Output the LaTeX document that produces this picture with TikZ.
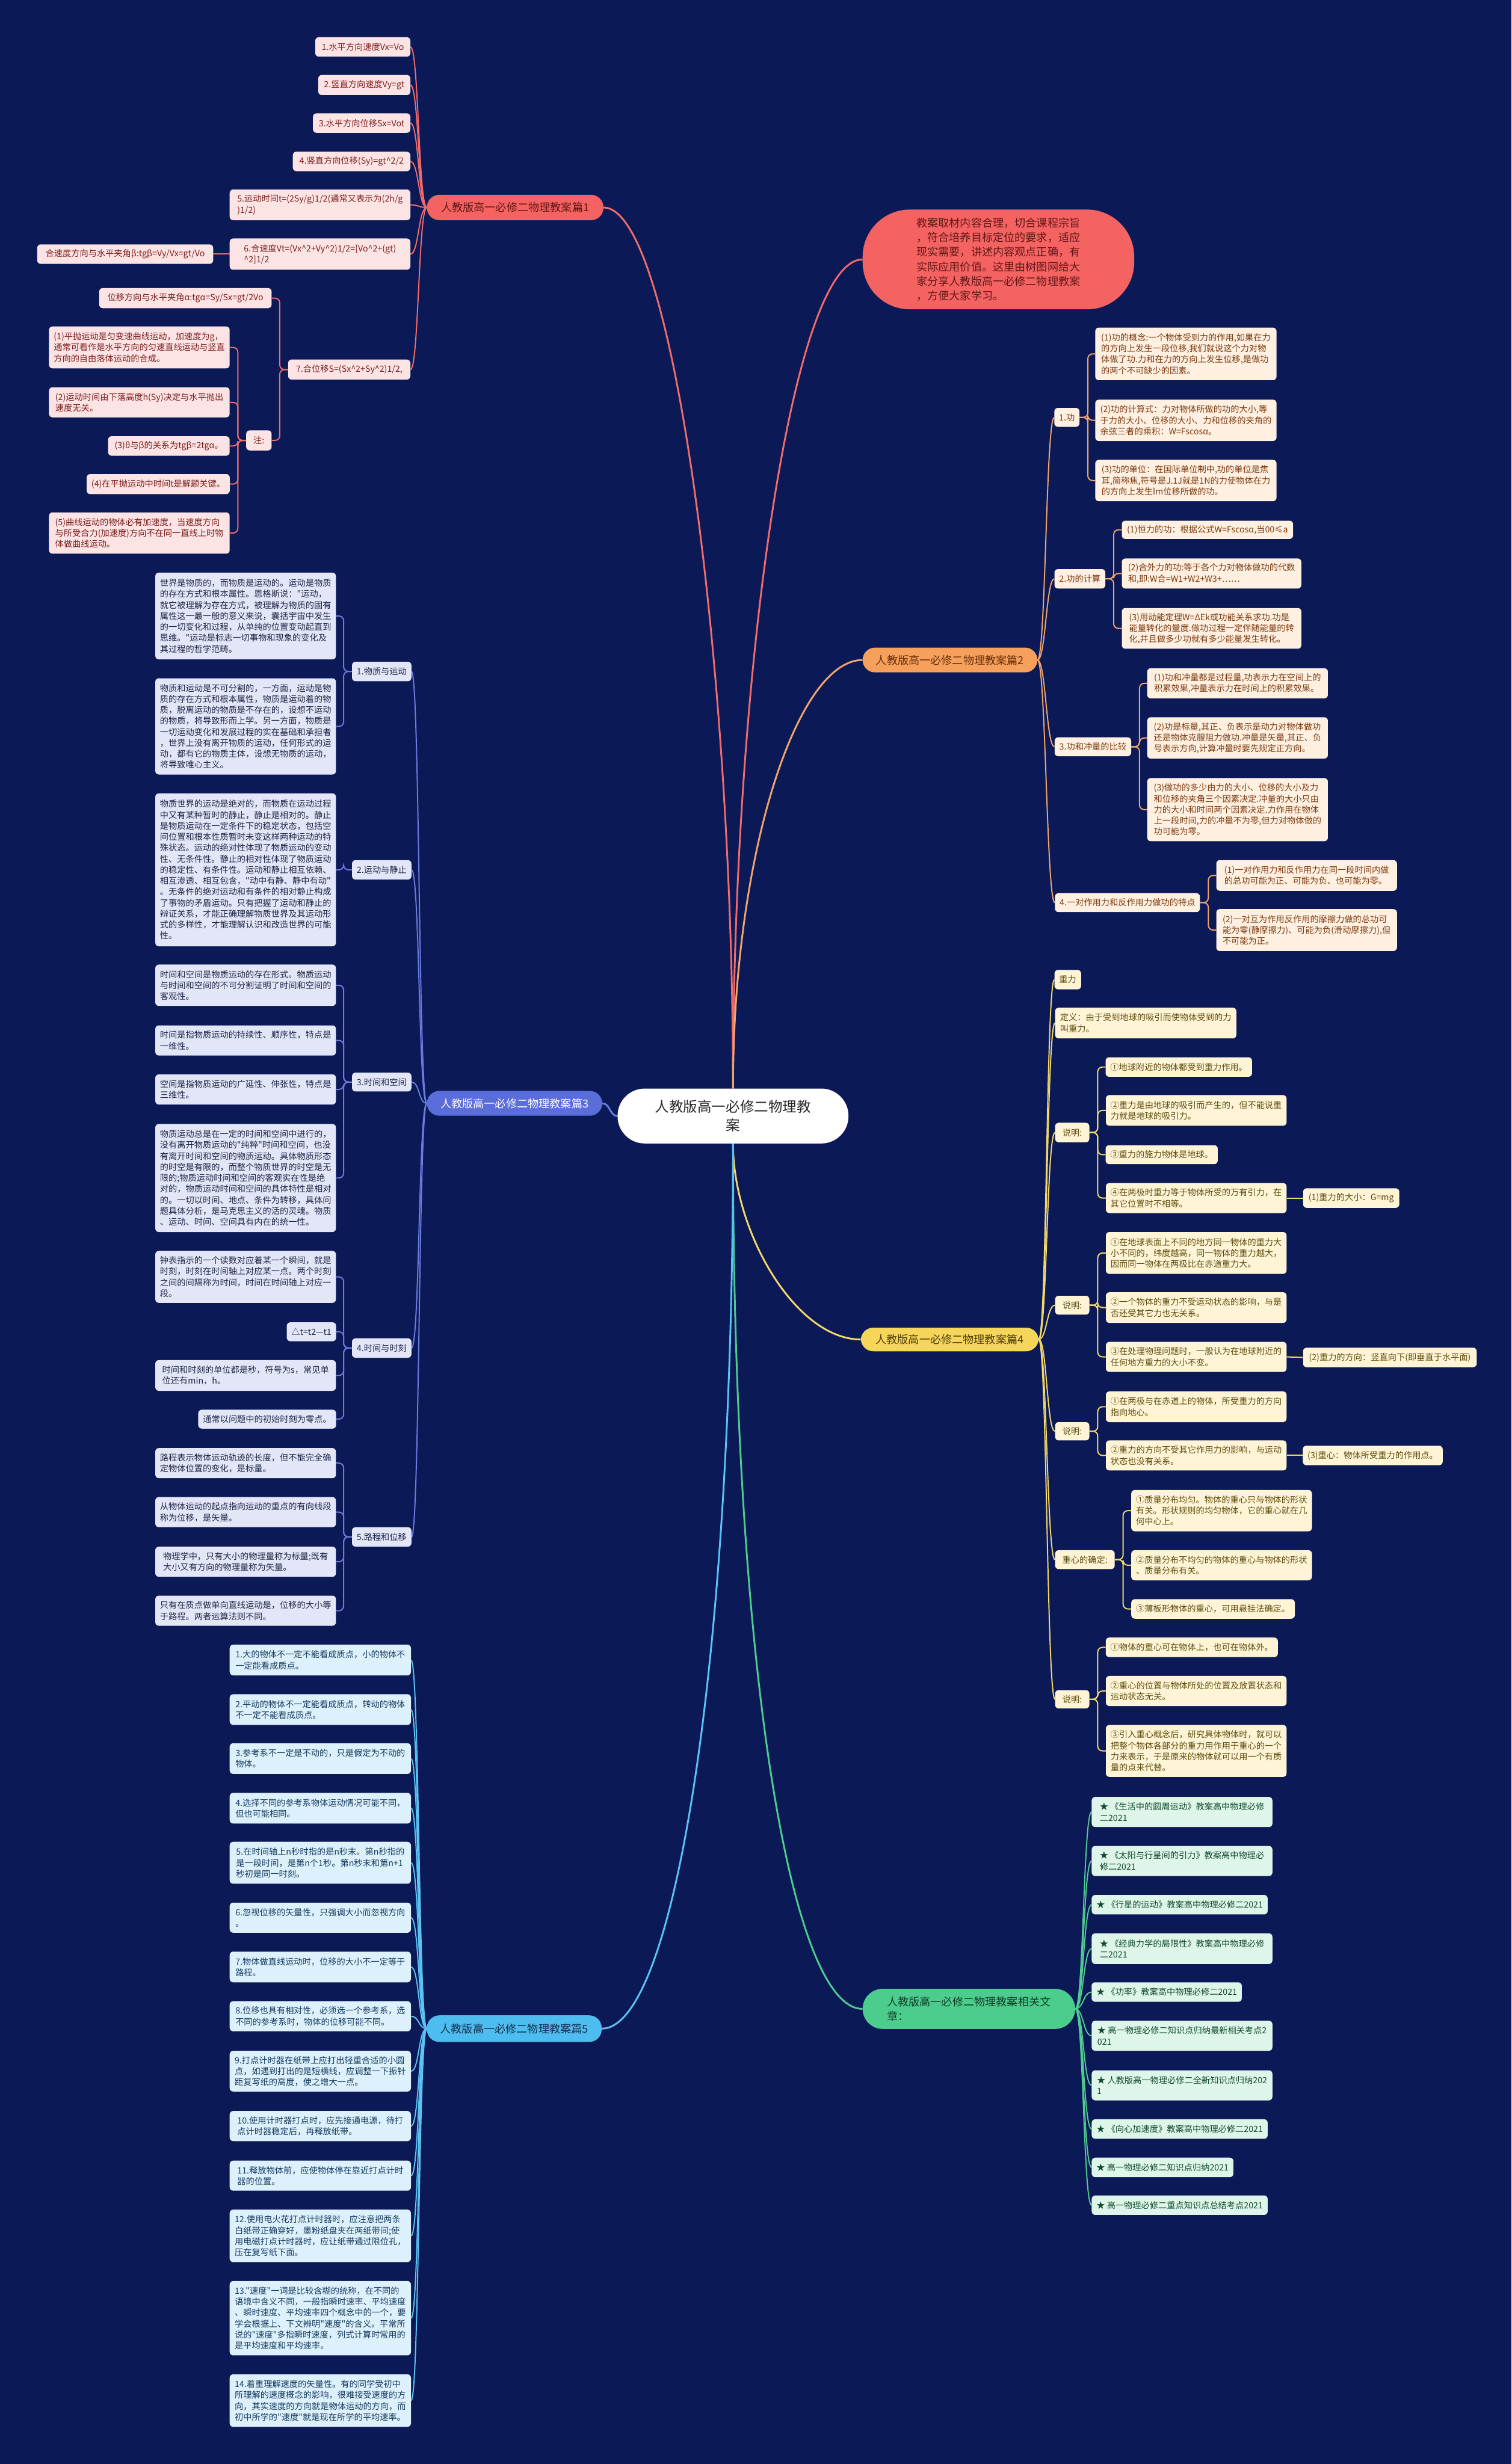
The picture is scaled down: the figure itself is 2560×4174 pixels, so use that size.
\documentclass[tikz,border=0pt]{standalone}
\usepackage{fontspec}
\newfontfamily\cjk{Noto Sans CJK SC}
\usetikzlibrary{calc}
\pgfdeclarelayer{back}\pgfdeclarelayer{lines}\pgfsetlayers{back,lines,main}
\definecolor{bgc}{HTML}{0B1A57}
\definecolor{cA}{HTML}{F46262}\definecolor{fA}{HTML}{FDE4E4}\definecolor{tA}{HTML}{7B1D1D}\definecolor{eA}{HTML}{F26B6B}
\definecolor{cB}{HTML}{F7A05C}\definecolor{fB}{HTML}{FFF0E1}\definecolor{tB}{HTML}{7C3A0F}\definecolor{eB}{HTML}{F2A56B}
\definecolor{cC}{HTML}{5B6DDA}\definecolor{fC}{HTML}{E2E6F7}\definecolor{tC}{HTML}{1F2747}\definecolor{eC}{HTML}{6B7CE0}
\definecolor{cD}{HTML}{F5D55A}\definecolor{fD}{HTML}{FFF5D6}\definecolor{tD}{HTML}{5E4B0E}\definecolor{eD}{HTML}{F2D86B}
\definecolor{cE}{HTML}{4DBDF0}\definecolor{fE}{HTML}{DDF1FC}\definecolor{tE}{HTML}{163A5E}\definecolor{eE}{HTML}{5BC3F3}
\definecolor{cF}{HTML}{4CCD8E}\definecolor{fF}{HTML}{DEF5EA}\definecolor{tF}{HTML}{124A2E}\definecolor{eF}{HTML}{4FCB90}
\newcommand\fl{\cjk\fontsize{14.5}{18.6}\selectfont}
\newcommand\fb{\cjk\fontsize{18.5}{24.8}\selectfont}
\newcommand\fc{\cjk\fontsize{24}{32}\selectfont}
\newcommand\ca{\textasciicircum}
\newcommand\mkn[7]{\node[#2,minimum width={#5-#3},minimum height={#6-#4}] (#1) at ({(#3+#5)/2},{(#4+#6)/2}) {#7};}
\newcommand\curL[3]{\draw[#1] (#2.west) .. controls +(-14,0) and +(14,0) .. (#3.east);}
\newcommand\curR[3]{\draw[#1] (#2.east) .. controls +(14,0) and +(-14,0) .. (#3.west);}
\newcommand\brkL[3]{\draw[#1,rounded corners=8pt] (#2.west) -- ++(-14,0) |- (#3.east);}
\newcommand\brkR[3]{\draw[#1,rounded corners=8pt] (#2.east) -- ++(14,0) |- (#3.west);}
\tikzset{
 leafbase/.style={rounded corners=6pt, align=left, inner xsep=8pt, inner ysep=0pt, font=\fl},
 leafA/.style={leafbase, fill=fA, text=tA},
 leafB/.style={leafbase, fill=fB, text=tB},
 leafC/.style={leafbase, fill=fC, text=tC},
 leafD/.style={leafbase, fill=fD, text=tD},
 leafE/.style={leafbase, fill=fE, text=tE},
 leafF/.style={leafbase, fill=fF, text=tF},
 branchbase/.style={rounded corners=21pt, align=center, inner sep=0pt, font=\fb},
 branchA/.style={branchbase, fill=cA, text=tA!80!black},
 branchB/.style={branchbase, fill=cB, text=tB!80!black},
 branchC/.style={branchbase, fill=cC, text=white},
 branchD/.style={branchbase, fill=cD, text=tD!80!black},
 branchE/.style={branchbase, fill=cE, text=tE!80!black},
 branchF/.style={branchbase, fill=cF, text=tF!80!black, rounded corners=34pt, align=left},
 introbox/.style={rounded corners=80pt, align=left, inner sep=0pt, font=\fb, fill=cA, text=tA!80!black},
 centerbox/.style={rounded corners=46pt, align=center, inner sep=0pt, font=\fc, fill=white, text=black!85},
 mainA/.style={draw=eA, line width=3pt}, mainB/.style={draw=eB, line width=3pt},
 mainC/.style={draw=eC, line width=3pt}, mainD/.style={draw=eD, line width=3pt},
 mainE/.style={draw=eE, line width=3pt}, mainF/.style={draw=eF, line width=3pt},
 edgeA/.style={draw=eA, line width=2pt}, edgeB/.style={draw=eB, line width=2pt},
 edgeC/.style={draw=eC, line width=2pt}, edgeD/.style={draw=eD, line width=2pt},
 edgeE/.style={draw=eE, line width=2pt}, edgeF/.style={draw=eF, line width=2pt},
}
\begin{document}
\begin{tikzpicture}[x=1pt,y=-1pt]
\useasboundingbox (0,0) rectangle (2560,4174);
\begin{pgfonlayer}{back}\fill[bgc] (0,0) rectangle (2560,4174);\end{pgfonlayer}

% center
\mkn{ctr}{centerbox}{1046}{1844}{1437}{1937}{人教版高一必修二物理教\\案}

% ---------- branch 1 ----------
\mkn{b1}{branchA}{723}{330}{1022}{373}{人教版高一必修二物理教案篇1}
\mkn{a1}{leafA}{534}{63}{695}{96}{1.水平方向速度Vx=Vo}
\mkn{a2}{leafA}{539}{127}{695}{161}{2.竖直方向速度Vy=gt}
\mkn{a3}{leafA}{530}{192}{695}{225}{3.水平方向位移Sx=Vot}
\mkn{a4}{leafA}{496}{257}{695}{290}{4.竖直方向位移(Sy)=gt\ca2/2}
\mkn{a5}{leafA}{389}{321}{695}{373}{5.运动时间t=(2Sy/g)1/2(通常又表示为(2h/g\\)1/2)}
\mkn{a6}{leafA}{389}{404}{695}{457}{6.合速度Vt=(Vx\ca2+Vy\ca2)1/2=[Vo\ca2+(gt)\\\ca2]1/2}
\mkn{a6b}{leafA}{63}{414}{361}{447}{合速度方向与水平夹角β:tgβ=Vy/Vx=gt/Vo}
\mkn{a7}{leafA}{488}{609}{695}{643}{7.合位移S=(Sx\ca2+Sy\ca2)1/2,}
\mkn{a7a}{leafA}{168}{488}{460}{522}{位移方向与水平夹角α:tgα=Sy/Sx=gt/2Vo}
\mkn{a7b}{leafA}{417}{729}{460}{763}{注:}
\mkn{n1}{leafA}{83}{553}{389}{624}{(1)平抛运动是匀变速曲线运动，加速度为g，\\通常可看作是水平方向的匀速直线运动与竖直\\方向的自由落体运动的合成。}
\mkn{n2}{leafA}{83}{656}{389}{707}{(2)运动时间由下落高度h(Sy)决定与水平抛出\\速度无关。}
\mkn{n3}{leafA}{183}{739}{389}{772}{(3)θ与β的关系为tgβ=2tgα。}
\mkn{n4}{leafA}{147}{803}{389}{837}{(4)在平抛运动中时间t是解题关键。}
\mkn{n5}{leafA}{83}{868}{389}{938}{(5)曲线运动的物体必有加速度，当速度方向\\与所受合力(加速度)方向不在同一直线上时物\\体做曲线运动。}

% ---------- intro ----------
\mkn{intro}{introbox}{1461}{355}{1921}{524}{教案取材内容合理，切合课程宗旨\\，符合培养目标定位的要求，适应\\现实需要，讲述内容观点正确，有\\实际应用价值。这里由树图网给大\\家分享人教版高一必修二物理教案\\，方便大家学习。}

% ---------- branch 2 ----------
\mkn{b2}{branchB}{1461}{1097}{1757}{1139}{人教版高一必修二物理教案篇2}
\mkn{k1}{leafB}{1787}{691}{1827}{723}{1.功}
\mkn{w1}{leafB}{1855}{555}{2162}{644}{(1)功的概念:一个物体受到力的作用,如果在力\\的方向上发生一段位移,我们就说这个力对物\\体做了功.力和在力的方向上发生位移,是做功\\的两个不可缺少的因素。}
\mkn{w2}{leafB}{1855}{677}{2162}{747}{(2)功的计算式：力对物体所做的功的大小,等\\于力的大小、位移的大小、力和位移的夹角的\\余弦三者的乘积：W=Fscosα。}
\mkn{w3}{leafB}{1855}{779}{2162}{849}{(3)功的单位：在国际单位制中,功的单位是焦\\耳,简称焦,符号是J.1J就是1N的力使物体在力\\的方向上发生lm位移所做的功。}
\mkn{k2}{leafB}{1787}{964}{1871}{997}{2.功的计算}
\mkn{w4}{leafB}{1900}{882}{2190}{913}{(1)恒力的功：根据公式W=Fscosα,当00≤a}
\mkn{w5}{leafB}{1900}{946}{2204}{997}{(2)合外力的功:等于各个力对物体做功的代数\\和,即:W合=W1+W2+W3+……}
\mkn{w6}{leafB}{1900}{1030}{2204}{1099}{(3)用动能定理W=ΔEk或功能关系求功.功是\\能量转化的量度.做功过程一定伴随能量的转\\化,并且做多少功就有多少能量发生转化。}
\mkn{k3}{leafB}{1787}{1249}{1915}{1281}{3.功和冲量的比较}
\mkn{w7}{leafB}{1943}{1132}{2249}{1183}{(1)功和冲量都是过程量,功表示力在空间上的\\积累效果,冲量表示力在时间上的积累效果。}
\mkn{w8}{leafB}{1943}{1215}{2249}{1285}{(2)功是标量,其正、负表示是动力对物体做功\\还是物体克服阻力做功.冲量是矢量,其正、负\\号表示方向,计算冲量时要先规定正方向。}
\mkn{w9}{leafB}{1943}{1318}{2249}{1425}{(3)做功的多少由力的大小、位移的大小及力\\和位移的夹角三个因素决定.冲量的大小只由\\力的大小和时间两个因素决定.力作用在物体\\上一段时间,力的冲量不为零,但力对物体做的\\功可能为零。}
\mkn{k4}{leafB}{1787}{1513}{2032}{1545}{4.一对作用力和反作用力做功的特点}
\mkn{w10}{leafB}{2060}{1457}{2366}{1509}{(1)一对作用力和反作用力在同一段时间内做\\的总功可能为正、可能为负、也可能为零。}
\mkn{w11}{leafB}{2060}{1540}{2366}{1611}{(2)一对互为作用反作用的摩擦力做的总功可\\能为零(静摩擦力)、可能为负(滑动摩擦力),但\\不可能为正。}

% ---------- branch 3 ----------
\mkn{b3}{branchC}{723}{1848}{1020}{1890}{人教版高一必修二物理教案篇3}
\mkn{c31}{leafC}{597}{1121}{696}{1154}{1.物质与运动}
\mkn{p1}{leafC}{263}{970}{569}{1117}{世界是物质的，而物质是运动的。运动是物质\\的存在方式和根本属性。恩格斯说："运动，\\就它被理解为存在方式，被理解为物质的固有\\属性这一最一般的意义来说，囊括宇宙中发生\\的一切变化和过程，从单纯的位置变动起直到\\思维。"运动是标志一切事物和现象的变化及\\其过程的哲学范畴。}
\mkn{p2}{leafC}{263}{1149}{569}{1312}{物质和运动是不可分割的，一方面，运动是物\\质的存在方式和根本属性，物质是运动着的物\\质，脱离运动的物质是不存在的，设想不运动\\的物质，将导致形而上学。另一方面，物质是\\一切运动变化和发展过程的实在基础和承担者\\，世界上没有离开物质的运动，任何形式的运\\动，都有它的物质主体，设想无物质的运动，\\将导致唯心主义。}
\mkn{c32}{leafC}{597}{1457}{696}{1490}{2.运动与静止}
\mkn{p3}{leafC}{263}{1344}{569}{1603}{物质世界的运动是绝对的，而物质在运动过程\\中又有某种暂时的静止，静止是相对的。静止\\是物质运动在一定条件下的稳定状态，包括空\\间位置和根本性质暂时未变这样两种运动的特\\殊状态。运动的绝对性体现了物质运动的变动\\性、无条件性。静止的相对性体现了物质运动\\的稳定性、有条件性。运动和静止相互依赖、\\相互渗透、相互包含，"动中有静、静中有动"\\。无条件的绝对运动和有条件的相对静止构成\\了事物的矛盾运动。只有把握了运动和静止的\\辩证关系，才能正确理解物质世界及其运动形\\式的多样性，才能理解认识和改造世界的可能\\性。}
\mkn{c33}{leafC}{597}{1817}{696}{1849}{3.时间和空间}
\mkn{p4}{leafC}{263}{1634}{569}{1704}{时间和空间是物质运动的存在形式。物质运动\\与时间和空间的不可分割证明了时间和空间的\\客观性。}
\mkn{p5}{leafC}{263}{1737}{569}{1788}{时间是指物质运动的持续性、顺序性，特点是\\一维性。}
\mkn{p6}{leafC}{263}{1820}{569}{1871}{空间是指物质运动的广延性、伸张性，特点是\\三维性。}
\mkn{p7}{leafC}{263}{1904}{569}{2087}{物质运动总是在一定的时间和空间中进行的，\\没有离开物质运动的"纯粹"时间和空间，也没\\有离开时间和空间的物质运动。具体物质形态\\的时空是有限的，而整个物质世界的时空是无\\限的;物质运动时间和空间的客观实在性是绝\\对的，物质运动时间和空间的具体特性是相对\\的。一切以时间、地点、条件为转移，具体问\\题具体分析，是马克思主义的活的灵魂。物质\\、运动、时间、空间具有内在的统一性。}
\mkn{c34}{leafC}{597}{2267}{696}{2300}{4.时间与时刻}
\mkn{p8}{leafC}{263}{2119}{569}{2207}{钟表指示的一个读数对应着某一个瞬间，就是\\时刻，时刻在时间轴上对应某一点。两个时刻\\之间的间隔称为时间，时间在时间轴上对应一\\段。}
\mkn{pdt}{leafC}{486}{2240}{569}{2272}{△t=t2—t1}
\mkn{p9}{leafC}{263}{2304}{569}{2356}{时间和时刻的单位都是秒，符号为s，常见单\\位还有min，h。}
\mkn{p10}{leafC}{336}{2388}{569}{2420}{通常以问题中的初始时刻为零点。}
\mkn{c35}{leafC}{597}{2587}{696}{2620}{5.路程和位移}
\mkn{p11}{leafC}{263}{2453}{569}{2504}{路程表示物体运动轨迹的长度，但不能完全确\\定物体位置的变化，是标量。}
\mkn{p12}{leafC}{263}{2536}{569}{2587}{从物体运动的起点指向运动的重点的有向线段\\称为位移，是矢量。}
\mkn{p13}{leafC}{263}{2620}{569}{2671}{物理学中，只有大小的物理量称为标量;既有\\大小又有方向的物理量称为矢量。}
\mkn{p14}{leafC}{263}{2703}{569}{2754}{只有在质点做单向直线运动是，位移的大小等\\于路程。两者运算法则不同。}

% ---------- branch 4 ----------
\mkn{b4}{branchD}{1458}{2249}{1759}{2289}{人教版高一必修二物理教案篇4}
\mkn{g0}{leafD}{1787}{1643}{1830}{1676}{重力}
\mkn{gd}{leafD}{1787}{1707}{2094}{1759}{定义：由于受到地球的吸引而使物体受到的力\\叫重力。}
\mkn{s1}{leafD}{1787}{1902}{1845}{1935}{说明:}
\mkn{g1}{leafD}{1873}{1791}{2120}{1824}{①地球附近的物体都受到重力作用。}
\mkn{g2}{leafD}{1873}{1855}{2179}{1907}{②重力是由地球的吸引而产生的，但不能说重\\力就是地球的吸引力。}
\mkn{g3}{leafD}{1873}{1940}{2062}{1972}{③重力的施力物体是地球。}
\mkn{g4}{leafD}{1873}{2004}{2179}{2055}{④在两极时重力等于物体所受的万有引力，在\\其它位置时不相等。}
\mkn{g4a}{leafD}{2207}{2013}{2370}{2046}{(1)重力的大小：G=mg}
\mkn{s2}{leafD}{1787}{2195}{1845}{2227}{说明:}
\mkn{g5}{leafD}{1873}{2087}{2179}{2158}{①在地球表面上不同的地方同一物体的重力大\\小不同的，纬度越高，同一物体的重力越大，\\因而同一物体在两极比在赤道重力大。}
\mkn{g6}{leafD}{1873}{2189}{2179}{2241}{②一个物体的重力不受运动状态的影响，与是\\否还受其它力也无关系。}
\mkn{g7}{leafD}{1873}{2273}{2179}{2324}{③在处理物理问题时，一般认为在地球附近的\\任何地方重力的大小不变。}
\mkn{g7a}{leafD}{2207}{2283}{2501}{2316}{(2)重力的方向：竖直向下(即垂直于水平面)}
\mkn{s3}{leafD}{1787}{2409}{1845}{2440}{说明:}
\mkn{g8}{leafD}{1873}{2357}{2179}{2409}{①在两极与在赤道上的物体，所受重力的方向\\指向地心。}
\mkn{g9}{leafD}{1873}{2440}{2179}{2491}{②重力的方向不受其它作用力的影响，与运动\\状态也没有关系。}
\mkn{g9a}{leafD}{2207}{2449}{2443}{2482}{(3)重心：物体所受重力的作用点。}
\mkn{s4}{leafD}{1787}{2626}{1888}{2658}{重心的确定:}
\mkn{g10}{leafD}{1916}{2524}{2222}{2594}{①质量分布均匀。物体的重心只与物体的形状\\有关。形状规则的均匀物体，它的重心就在几\\何中心上。}
\mkn{g11}{leafD}{1916}{2626}{2222}{2677}{②质量分布不均匀的物体的重心与物体的形状\\、质量分布有关。}
\mkn{g12}{leafD}{1916}{2709}{2193}{2742}{③薄板形物体的重心，可用悬挂法确定。}
\mkn{s5}{leafD}{1787}{2863}{1845}{2894}{说明:}
\mkn{g13}{leafD}{1873}{2774}{2164}{2807}{①物体的重心可在物体上，也可在物体外。}
\mkn{g14}{leafD}{1873}{2839}{2179}{2890}{②重心的位置与物体所处的位置及放置状态和\\运动状态无关。}
\mkn{g15}{leafD}{1873}{2922}{2179}{3010}{③引入重心概念后，研究具体物体时，就可以\\把整个物体各部分的重力用作用于重心的一个\\力来表示，于是原来的物体就可以用一个有质\\量的点来代替。}

% ---------- branch 5 ----------
\mkn{b5}{branchE}{723}{3414}{1019}{3459}{人教版高一必修二物理教案篇5}
\mkn{q1}{leafE}{389}{2786}{696}{2838}{1.大的物体不一定不能看成质点，小的物体不\\一定能看成质点。}
\mkn{q2}{leafE}{389}{2870}{696}{2922}{2.平动的物体不一定能看成质点，转动的物体\\不一定不能看成质点。}
\mkn{q3}{leafE}{389}{2953}{696}{3005}{3.参考系不一定是不动的，只是假定为不动的\\物体。}
\mkn{q4}{leafE}{389}{3037}{696}{3089}{4.选择不同的参考系物体运动情况可能不同，\\但也可能相同。}
\mkn{q5}{leafE}{389}{3120}{696}{3191}{5.在时间轴上n秒时指的是n秒末。第n秒指的\\是一段时间，是第n个1秒。第n秒末和第n+1\\秒初是同一时刻。}
\mkn{q6}{leafE}{389}{3223}{696}{3274}{6.忽视位移的矢量性，只强调大小而忽视方向\\。}
\mkn{q7}{leafE}{389}{3306}{696}{3358}{7.物体做直线运动时，位移的大小不一定等于\\路程。}
\mkn{q8}{leafE}{389}{3390}{696}{3441}{8.位移也具有相对性，必须选一个参考系，选\\不同的参考系时，物体的位移可能不同。}
\mkn{q9}{leafE}{389}{3474}{696}{3543}{9.打点计时器在纸带上应打出轻重合适的小圆\\点，如遇到打出的是短横线，应调整一下振针\\距复写纸的高度，使之增大一点。}
\mkn{q10}{leafE}{389}{3576}{696}{3627}{10.使用计时器打点时，应先接通电源，待打\\点计时器稳定后，再释放纸带。}
\mkn{q11}{leafE}{389}{3660}{696}{3711}{11.释放物体前，应使物体停在靠近打点计时\\器的位置。}
\mkn{q12}{leafE}{389}{3743}{696}{3832}{12.使用电火花打点计时器时，应注意把两条\\白纸带正确穿好，墨粉纸盘夹在两纸带间;使\\用电磁打点计时器时，应让纸带通过限位孔，\\压在复写纸下面。}
\mkn{q13}{leafE}{389}{3864}{696}{3990}{13."速度"一词是比较含糊的统称，在不同的\\语境中含义不同，一般指瞬时速率、平均速度\\、瞬时速度、平均速率四个概念中的一个，要\\学会根据上、下文辨明"速度"的含义。平常所\\说的"速度"多指瞬时速度，列式计算时常用的\\是平均速度和平均速率。}
\mkn{q14}{leafE}{389}{4022}{696}{4111}{14.着重理解速度的矢量性。有的同学受初中\\所理解的速度概念的影响，很难接受速度的方\\向，其实速度的方向就是物体运动的方向，而\\初中所学的"速度"就是现在所学的平均速率。}

% ---------- related ----------
\mkn{bR}{branchF}{1461}{3369}{1821}{3437}{人教版高一必修二物理教案相关文\\章：}
\mkn{r1}{leafF}{1849}{3044}{2155}{3095}{★ 《生活中的圆周运动》教案高中物理必修\\二2021}
\mkn{r2}{leafF}{1849}{3127}{2155}{3178}{★ 《太阳与行星间的引力》教案高中物理必\\修二2021}
\mkn{r3}{leafF}{1849}{3210}{2147}{3243}{★ 《行星的运动》教案高中物理必修二2021}
\mkn{r4}{leafF}{1849}{3275}{2155}{3327}{★ 《经典力学的局限性》教案高中物理必修\\二2021}
\mkn{r5}{leafF}{1849}{3358}{2103}{3391}{★ 《功率》教案高中物理必修二2021}
\mkn{r6}{leafF}{1849}{3423}{2155}{3474}{★ 高一物理必修二知识点归纳最新相关考点2\\021}
\mkn{r7}{leafF}{1849}{3507}{2155}{3558}{★ 人教版高一物理必修二全新知识点归纳202\\1}
\mkn{r8}{leafF}{1849}{3590}{2147}{3623}{★ 《向心加速度》教案高中物理必修二2021}
\mkn{r9}{leafF}{1849}{3655}{2089}{3688}{★ 高一物理必修二知识点归纳2021}
\mkn{r10}{leafF}{1849}{3719}{2147}{3752}{★ 高一物理必修二重点知识点总结考点2021}

% ================= connectors =================
\begin{pgfonlayer}{lines}
% center to branches
\draw[mainA] (ctr.north) .. controls +(0,-700) and +(-120,0) .. (intro.west);
\draw[mainA] (ctr.north) .. controls +(0,-700) and +(120,0) .. (b1.east);
\draw[mainB] (ctr.north) .. controls +(0,-400) and +(-110,0) .. (b2.west);
\draw[mainC] (ctr.west) .. controls +(-13,0) and +(13,0) .. (b3.east);
\draw[mainD] (ctr.south) .. controls +(0,150) and +(-110,0) .. (b4.west);
\draw[mainF] (ctr.south) .. controls +(0,900) and +(-120,0) .. (bR.west);
\draw[mainE] (ctr.south) .. controls +(0,900) and +(120,0) .. (b5.east);
% branch 1
\foreach \t in {a1,a2,a3,a4,a5,a6,a7}{\curL{edgeA}{b1}{\t}}
\draw[edgeA] (a6.west) -- (a6b.east);
\brkL{edgeA}{a7}{a7a}\brkL{edgeA}{a7}{a7b}
\foreach \t in {n1,n2,n3,n4,n5}{\brkL{edgeA}{a7b}{\t}}
% branch 2
\foreach \t in {k1,k2,k3,k4}{\curR{edgeB}{b2}{\t}}
\foreach \t in {w1,w2,w3}{\brkR{edgeB}{k1}{\t}}
\foreach \t in {w4,w5,w6}{\brkR{edgeB}{k2}{\t}}
\foreach \t in {w7,w8,w9}{\brkR{edgeB}{k3}{\t}}
\foreach \t in {w10,w11}{\brkR{edgeB}{k4}{\t}}
% branch 3
\foreach \t in {c31,c32,c33,c34,c35}{\curL{edgeC}{b3}{\t}}
\foreach \t in {p1,p2}{\brkL{edgeC}{c31}{\t}}
\brkL{edgeC}{c32}{p3}
\foreach \t in {p4,p5,p6,p7}{\brkL{edgeC}{c33}{\t}}
\foreach \t in {p8,pdt,p9,p10}{\brkL{edgeC}{c34}{\t}}
\foreach \t in {p11,p12,p13,p14}{\brkL{edgeC}{c35}{\t}}
% branch 4
\foreach \t in {g0,gd,s1,s2,s3,s4,s5}{\curR{edgeD}{b4}{\t}}
\foreach \t in {g1,g2,g3,g4}{\brkR{edgeD}{s1}{\t}}
\foreach \t in {g5,g6,g7}{\brkR{edgeD}{s2}{\t}}
\foreach \t in {g8,g9}{\brkR{edgeD}{s3}{\t}}
\foreach \t in {g10,g11,g12}{\brkR{edgeD}{s4}{\t}}
\foreach \t in {g13,g14,g15}{\brkR{edgeD}{s5}{\t}}
\draw[edgeD] (g4.east) -- (g4a.west);
\draw[edgeD] (g7.east) -- (g7a.west);
\draw[edgeD] (g9.east) -- (g9a.west);
% branch 5
\foreach \t in {q1,q2,q3,q4,q5,q6,q7,q8,q9,q10,q11,q12,q13,q14}{\curL{edgeE}{b5}{\t}}
% related
\foreach \t in {r1,r2,r3,r4,r5,r6,r7,r8,r9,r10}{\curR{edgeF}{bR}{\t}}
\end{pgfonlayer}
\end{tikzpicture}
\end{document}
